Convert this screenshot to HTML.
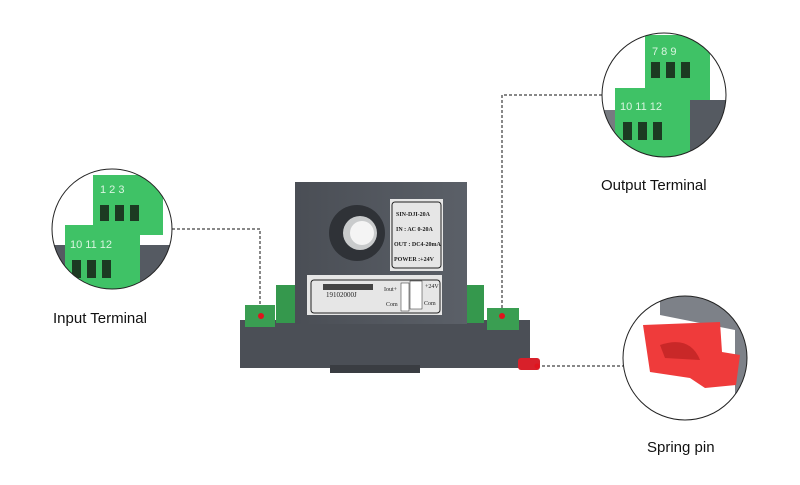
<!DOCTYPE html>
<html><head><meta charset="utf-8"><style>
body{margin:0;background:#fff;width:800px;height:480px;overflow:hidden;font-family:"Liberation Sans",sans-serif}
</style></head><body>
<svg width="800" height="480" viewBox="0 0 800 480" xmlns="http://www.w3.org/2000/svg">
<defs>
<clipPath id="c1"><circle cx="112" cy="229" r="60"/></clipPath>
<clipPath id="c2"><circle cx="664" cy="95" r="62"/></clipPath>
<clipPath id="c3"><circle cx="685" cy="358" r="62"/></clipPath>
<linearGradient id="g" x1="0" x2="1"><stop offset="0" stop-color="#4a4e55"/><stop offset="1" stop-color="#5b6068"/></linearGradient>
</defs>
<g stroke="#111" stroke-width="1" stroke-dasharray="3,2" fill="none">
<polyline points="172,229 260,229 260,316"/>
<polyline points="602,95 502,95 502,316"/>
<line x1="537" y1="366" x2="623" y2="366"/>
</g>
<rect x="240" y="320" width="290" height="48" fill="#4b4f56"/>
<rect x="330" y="365" width="90" height="8" fill="#3a3d42"/>
<rect x="245" y="305" width="30" height="22" fill="#3a9e52"/>
<rect x="276" y="285" width="20" height="38" fill="#35984d"/>
<rect x="462" y="285" width="22" height="38" fill="#35984d"/>
<rect x="487" y="308" width="32" height="22" fill="#3a9e52"/>
<rect x="295" y="182" width="172" height="142" fill="url(#g)"/>
<circle cx="357" cy="233" r="28" fill="#2f3237"/>
<circle cx="360" cy="233" r="17" fill="#c9cbcc"/>
<circle cx="362" cy="233" r="12" fill="#f4f4f4"/>
<rect x="390" y="199" width="53" height="72" fill="#e6e6e6"/>
<rect x="392" y="202" width="49" height="66" rx="3" fill="none" stroke="#222"/>
<g font-family="Liberation Serif,serif" font-size="6" font-weight="bold" fill="#222">
<text x="396" y="216">SIN-DJI-20A</text><text x="396" y="231">IN : AC 0-20A</text>
<text x="394" y="246">OUT : DC4-20mA</text><text x="394" y="261">POWER :+24V</text></g>
<rect x="307" y="275" width="135" height="40" fill="#e6e6e6"/>
<rect x="311" y="280" width="129" height="33" rx="3" fill="none" stroke="#222"/>
<rect x="323" y="284" width="50" height="6" fill="#444"/>
<text x="326" y="297" font-size="7" font-family="Liberation Serif,serif" fill="#222">19102000J</text>
<g font-family="Liberation Serif,serif" font-size="6" fill="#222"><text x="384" y="291">Iout+</text><text x="386" y="306">Com</text><text x="425" y="288">+24V</text><text x="424" y="305">Com</text></g>
<rect x="401" y="283" width="8" height="28" fill="#fff" stroke="#222" stroke-width=".5"/>
<rect x="410" y="281" width="12" height="28" fill="#fff" stroke="#222" stroke-width=".5"/>
<circle cx="261" cy="316" r="3" fill="#e0141e"/>
<circle cx="502" cy="316" r="3" fill="#e0141e"/>
<rect x="518" y="358" width="22" height="12" rx="3" fill="#d8202a"/>
<circle cx="537" cy="366" r="2.5" fill="#e0141e"/>
<g clip-path="url(#c1)"><rect x="50" y="165" width="125" height="130" fill="#fff"/>
<rect x="50" y="245" width="125" height="50" fill="#555a62"/>
<rect x="93" y="175" width="70" height="60" fill="#3fc266"/>
<rect x="65" y="225" width="75" height="65" fill="#3fc266"/>
<rect x="100" y="205" width="9" height="16" fill="#1c3a22"/><rect x="115" y="205" width="9" height="16" fill="#1c3a22"/><rect x="130" y="205" width="9" height="16" fill="#1c3a22"/>
<rect x="72" y="260" width="9" height="18" fill="#1c3a22"/><rect x="87" y="260" width="9" height="18" fill="#1c3a22"/><rect x="102" y="260" width="9" height="18" fill="#1c3a22"/>
<g fill="#d9f5e0" font-size="11"><text x="100" y="193">1 2 3</text><text x="70" y="248">10 11 12</text></g></g>
<circle cx="112" cy="229" r="60" fill="none" stroke="#222" stroke-width="1"/>
<g clip-path="url(#c2)"><rect x="600" y="30" width="130" height="130" fill="#fff"/>
<rect x="680" y="100" width="50" height="60" fill="#555a62"/><rect x="600" y="110" width="130" height="50" fill="#555a62" opacity=".8"/>
<rect x="645" y="35" width="65" height="65" fill="#3fc266"/>
<rect x="615" y="88" width="75" height="70" fill="#3fc266"/>
<rect x="651" y="62" width="9" height="16" fill="#1c3a22"/><rect x="666" y="62" width="9" height="16" fill="#1c3a22"/><rect x="681" y="62" width="9" height="16" fill="#1c3a22"/>
<rect x="623" y="122" width="9" height="18" fill="#1c3a22"/><rect x="638" y="122" width="9" height="18" fill="#1c3a22"/><rect x="653" y="122" width="9" height="18" fill="#1c3a22"/>
<g fill="#d9f5e0" font-size="11"><text x="652" y="55">7 8 9</text><text x="620" y="110">10 11 12</text></g></g>
<circle cx="664" cy="95" r="62" fill="none" stroke="#222"/>
<g clip-path="url(#c3)"><rect x="620" y="295" width="130" height="130" fill="#fff"/>
<path d="M660 290 L760 290 L760 400 L735 400 L735 330 L660 315 Z" fill="#7d8188"/>
<path d="M643 325 L720 322 L722 352 L740 355 L736 385 L705 388 L690 378 L650 372 Z" fill="#ef3b3b"/>
<path d="M660 345 Q690 335 700 360 L665 358 Z" fill="#c92828"/></g>
<circle cx="685" cy="358" r="62" fill="none" stroke="#222"/>
<g font-size="15" fill="#111">
<text x="53" y="323">Input Terminal</text>
<text x="601" y="190">Output Terminal</text>
<text x="647" y="452">Spring pin</text></g>
</svg>
</body></html>
